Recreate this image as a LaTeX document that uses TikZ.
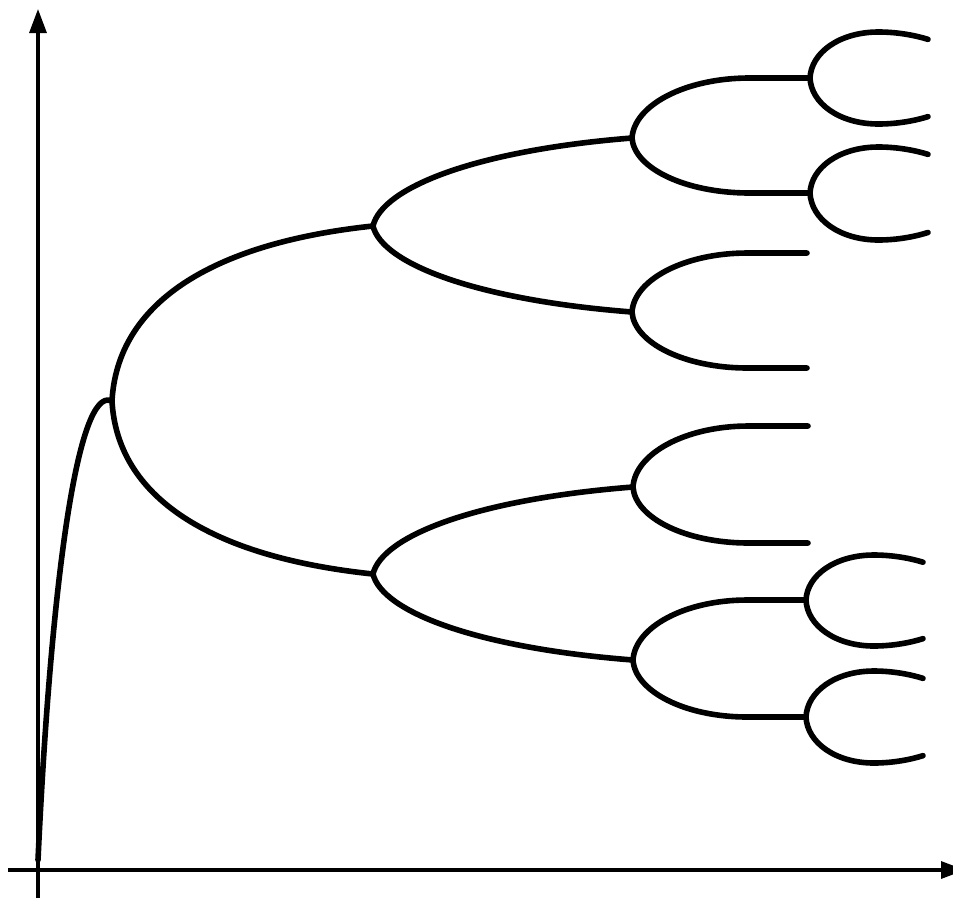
\documentclass[tikz,border=0pt]{standalone}
\usetikzlibrary{arrows.meta}
\tikzset{
  axisline/.style={line width=3.2pt, -{Triangle[length=24pt,width=17pt]}},
  curve/.style={line width=5.6pt, line cap=round, line join=round},
}
% level 1 branch shape
\newcommand\brOne[4]{\begin{scope}[shift={(#1,#2)},xscale={#3-#1},yscale={#4-#2}]
\draw[curve] (0,0) .. controls (0.02,0.55) and (0.37,0.9) .. (1,1);
\end{scope}}
% level 2 branch shape
\newcommand\brTwo[4]{\begin{scope}[shift={(#1,#2)},xscale={#3-#1},yscale={#4-#2}]
\draw[curve] (0,0) .. controls (0.035,0.44) and (0.4,0.86) .. (1,1);
\end{scope}}
% level 3 branch shape
\newcommand\brThree[4]{\begin{scope}[shift={(#1,#2)},xscale={#3-#1},yscale={#4-#2}]
\draw[curve] (0,0) .. controls (0.012,0.55) and (0.3,1) .. (0.66,1) -- (1,1);
\end{scope}}
% level 4 (small fork) shape; #4 = extreme y
\newcommand\brFour[4]{\begin{scope}[shift={(#1,#2)},xscale={#3-#1},yscale={#4-#2}]
\draw[curve] (0,0) .. controls (0.01,0.552) and (0.25,1) .. (0.58,1) .. controls (0.75,1) and (0.9,0.92) .. (1,0.84);
\end{scope}}
\begin{document}
\begin{tikzpicture}[x=1pt,y=-1pt]
\useasboundingbox (0,0) rectangle (953,898);
\clip (0,0) rectangle (953,898);
% axes
\coordinate (ybot) at (38,898);
\coordinate (ytop) at (38,9);
\coordinate (xleft) at (8,870);
\coordinate (xright) at (965,870);
\draw[axisline] (ybot) -- (ytop);
\draw[axisline] (xleft) -- (xright);
% initial curve
\coordinate (start) at (38,860);
\coordinate (peak) at (108,400);
\coordinate (b0) at (112,401);
\draw[curve] (start) .. controls (50,600) and (75,400) .. (peak) -- (b0);
% level 1
\brOne{112}{401}{373}{226}
\brOne{112}{401}{373}{574}
% level 2
\brTwo{373}{226}{632}{138}
\brTwo{373}{226}{632}{312}
\brTwo{373}{574}{633}{487}
\brTwo{373}{574}{633}{660}
% level 3
\brThree{632}{138}{810}{78}
\brThree{632}{138}{810}{193}
\brThree{632}{312}{807}{253}
\brThree{632}{312}{807}{368}
\brThree{633}{487}{808}{426}
\brThree{633}{487}{808}{543}
\brThree{633}{660}{806}{600}
\brThree{633}{660}{806}{717}
% level 4
\brFour{810}{78}{928}{32}
\brFour{810}{78}{928}{124}
\brFour{810}{193}{928}{147}
\brFour{810}{193}{928}{240}
\brFour{806}{600}{923}{555}
\brFour{806}{600}{923}{646}
\brFour{806}{717}{923}{671}
\brFour{806}{717}{923}{763}
\end{tikzpicture}
\end{document}
